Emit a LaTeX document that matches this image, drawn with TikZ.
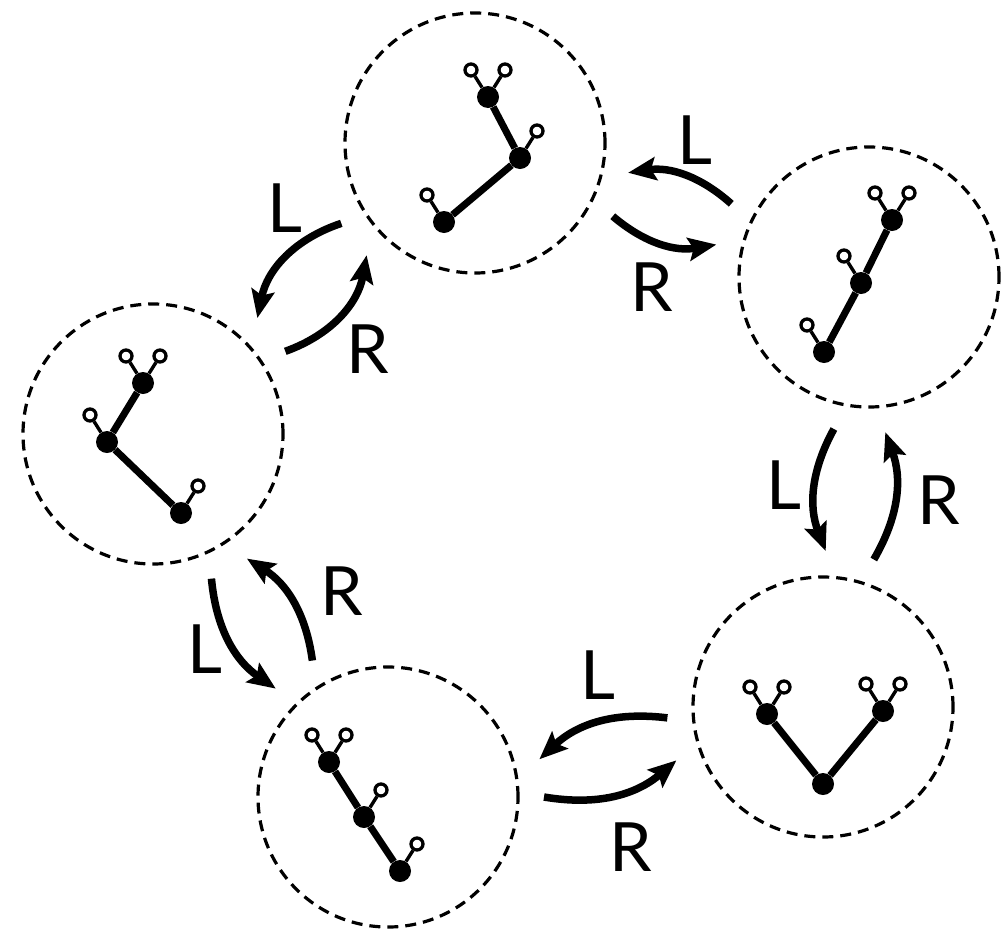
\documentclass[tikz,border=0pt]{standalone}
\usepackage{fontspec}
\setsansfont{Lato}
\usetikzlibrary{arrows.meta}
% leaf: name, parent, side (-1 left, 1 right)
\newcommand\leaf[3]{%
  \node[leafnode] (#1) at ([shift={(#3*17,-27)}]#2) {};
  \draw[stalk] (#2) -- (#1);}

\begin{document}
\begin{tikzpicture}[x=1pt,y=-1pt,>={Stealth[length=28pt,width=23pt,inset=5pt]},
  pool/.style={circle,draw,dash pattern=on 11pt off 7pt,line width=3.2pt,
    minimum size=260pt,inner sep=0,outer sep=26pt},
  knot/.style={circle,fill=black,inner sep=0,minimum size=22pt},
  leafnode/.style={circle,draw,fill=white,line width=3.3pt,inner sep=0,minimum size=12pt},
  bond/.style={line width=7pt},
  stalk/.style={line width=3.4pt},
  move/.style={->,line width=7.5pt},
  tag/.style={font=\sffamily\fontsize{68}{80}\selectfont,inner sep=0}]
\useasboundingbox (0,0) rectangle (1004,932);

% dashed pools
\node[pool] (upper) at (475,143) {};
\node[pool] (east)  at (869,277) {};
\node[pool] (west)  at (153,434) {};
\node[pool] (lowl)  at (388,797) {};
\node[pool] (lowr)  at (823,707) {};

% upper tree
\node[knot] (ua) at (444,222) {};
\node[knot] (ub) at (520,158) {};
\node[knot] (uc) at (488,97) {};
\draw[bond] (ua) -- (ub) -- (uc);
\leaf{ua1}{ua}{-1}\leaf{ub1}{ub}{1}\leaf{uc1}{uc}{-1}\leaf{uc2}{uc}{1}

% east tree
\node[knot] (ea) at (824,352) {};
\node[knot] (eb) at (861,283) {};
\node[knot] (ec) at (892,220) {};
\draw[bond] (ea) -- (eb) -- (ec);
\leaf{ea1}{ea}{-1}\leaf{eb1}{eb}{-1}\leaf{ec1}{ec}{-1}\leaf{ec2}{ec}{1}

% west tree
\node[knot] (wa) at (181,513) {};
\node[knot] (wb) at (107,442) {};
\node[knot] (wc) at (143,383) {};
\draw[bond] (wa) -- (wb) -- (wc);
\leaf{wa1}{wa}{1}\leaf{wb1}{wb}{-1}\leaf{wc1}{wc}{-1}\leaf{wc2}{wc}{1}

% lower left tree
\node[knot] (la) at (400,871) {};
\node[knot] (lb) at (364,817) {};
\node[knot] (lc) at (329,762) {};
\draw[bond] (la) -- (lb) -- (lc);
\leaf{la1}{la}{1}\leaf{lb1}{lb}{1}\leaf{lc1}{lc}{-1}\leaf{lc2}{lc}{1}

% lower right tree
\node[knot] (ra) at (823,784) {};
\node[knot] (rb) at (767,714) {};
\node[knot] (rc) at (883,711) {};
\draw[bond] (rb) -- (ra) -- (rc);
\leaf{rb1}{rb}{-1}\leaf{rb2}{rb}{1}\leaf{rc1}{rc}{-1}\leaf{rc2}{rc}{1}

% moves
\draw[move] (upper.-28.4) to[bend right=25] (east.168.6);
\draw[move] (east.152.8)  to[bend right=25] (upper.-11.4);
\draw[move] (upper.211.9) to[bend right=30] (west.48.6);
\draw[move] (west.32.9)   to[bend right=30] (upper.226.9);
\draw[move] (east.-103)   to[bend right=25] (lowr.89.6);
\draw[move] (lowr.71)     to[bend right=25] (east.-84.9);
\draw[move] (lowr.184.6)  to[bend right=25] (lowl.14.3);
\draw[move] (lowl.0)      to[bend right=25] (lowr.200.6);
\draw[move] (west.-68.1)  to[bend right=25] (lowl.136);
\draw[move] (lowl.119.2)  to[bend right=25] (west.-53.1);

% labels
\node[tag] (tl1) at (695,140) {L};
\node[tag] (tr1) at (652,287) {R};
\node[tag] (tl2) at (285,208) {L};
\node[tag] (tr2) at (368,349) {R};
\node[tag] (tl3) at (784,485) {L};
\node[tag] (tr3) at (939,500) {R};
\node[tag] (tl4) at (205,649) {L};
\node[tag] (tr4) at (342,591) {R};
\node[tag] (tl5) at (598,675) {L};
\node[tag] (tr5) at (631,847) {R};
\end{tikzpicture}
\end{document}
